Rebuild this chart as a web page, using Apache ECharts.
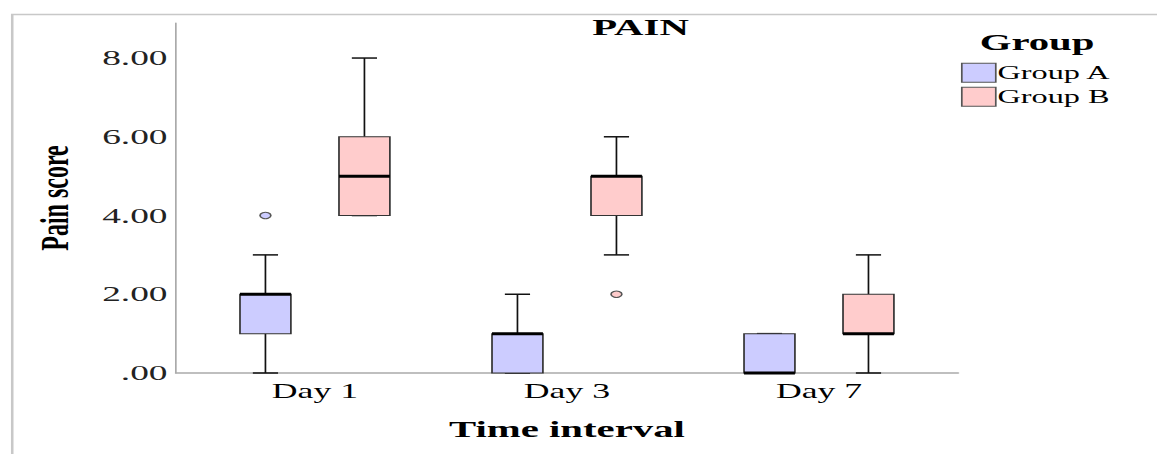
<!DOCTYPE html>
<html>
<head>
<meta charset="utf-8">
<title>PAIN</title>
<style>
  html, body { margin: 0; padding: 0; background: #fff; overflow: hidden; }
  /* the source figure is stretched sideways, so the chart is drawn narrow and scaled in x */
  #main { width: 681px; height: 454px; transform: scaleX(1.699); transform-origin: 0 0; }
</style>
</head>
<body>
<div id="main"></div>
<script src="https://cdn.jsdelivr.net/npm/echarts@6/dist/echarts.min.js"></script>
<script>
var days = ['Day 1', 'Day 3', 'Day 7'];
// [min, Q1, median, Q3, max] per day
var groupA = [[0, 1, 2, 2, 3], [0, 0, 1, 1, 2], [0, 0, 0, 1, 1]];
var groupB = [[4, 4, 5, 6, 8], [3, 4, 5, 5, 6], [0, 1, 1, 2, 3]];
// [day index, value]
var outliersA = [[0, 4]];
var outliersB = [[1, 2]];
var yTicks = [0, 2, 4, 6, 8];

var serif = '"Liberation Serif", "Times New Roman", serif';
var colorA = '#ccccff';
var colorB = '#ffcccc';

function withIndex(rows) {
  return rows.map(function (r, i) { return [i].concat(r); });
}

function boxRenderer(shift) {
  return function (params, api) {
    var i = api.value(0);
    var band = api.size([1, 0])[0];
    var cx = api.coord([i, 0])[0] + band * shift;
    var half = band * 0.101;
    var cap = band * 0.05;
    var yMin = api.coord([i, api.value(1)])[1];
    var yQ1 = api.coord([i, api.value(2)])[1];
    var yMed = api.coord([i, api.value(3)])[1];
    var yQ3 = api.coord([i, api.value(4)])[1];
    var yMax = api.coord([i, api.value(5)])[1];
    var line = { stroke: '#111', lineWidth: 1 };
    return {
      type: 'group',
      children: [
        { type: 'line', shape: { x1: cx, y1: yQ1, x2: cx, y2: yMin }, style: line },
        { type: 'line', shape: { x1: cx, y1: yQ3, x2: cx, y2: yMax }, style: line },
        { type: 'line', shape: { x1: cx - cap, y1: yMin, x2: cx + cap, y2: yMin }, style: { stroke: '#111', lineWidth: 1.5 } },
        { type: 'line', shape: { x1: cx - cap, y1: yMax, x2: cx + cap, y2: yMax }, style: { stroke: '#111', lineWidth: 1.5 } },
        { type: 'rect', shape: { x: cx - half, y: yQ3, width: half * 2, height: yQ1 - yQ3 },
          style: { fill: api.visual('color'), stroke: '#333', lineWidth: 1 } },
        { type: 'line', shape: { x1: cx - half, y1: yMed, x2: cx + half, y2: yMed }, style: { stroke: '#000', lineWidth: 3 } }
      ]
    };
  };
}

function outlierRenderer(shift) {
  return function (params, api) {
    var i = api.value(0);
    var band = api.size([1, 0])[0];
    var p = api.coord([i, api.value(1)]);
    return {
      type: 'circle',
      shape: { cx: p[0] + band * shift, cy: p[1], r: 3.2 },
      style: { fill: api.visual('color'), stroke: '#555', lineWidth: 1 }
    };
  };
}

var chart = echarts.init(document.getElementById('main'), null, { renderer: 'svg' });

var option = {
  backgroundColor: '#fff',
  animation: false,
  graphic: [{
    type: 'rect',
    left: 4.7, top: 12,
    shape: { width: 720, height: 480 },
    style: { fill: 'none', stroke: '#c8c8c8', lineWidth: 1.5 },
    silent: true
  }],
  title: [{
    text: 'PAIN',
    left: 377, top: 15, padding: 0,
    textAlign: 'center',
    textStyle: { fontFamily: serif, fontWeight: 'bold', fontSize: 24, color: '#000' }
  }, {
    text: 'Group',
    left: 610.4, top: 30, padding: 0,
    textAlign: 'center',
    textStyle: { fontFamily: serif, fontWeight: 'bold', fontSize: 24, color: '#000' }
  }],
  legend: {
    orient: 'vertical',
    left: 565.6, top: 62.7,
    padding: 0,
    itemWidth: 20, itemHeight: 19, itemGap: 4,
    selectedMode: false,
    textStyle: { fontFamily: serif, fontSize: 19, color: '#000', padding: [6, 0, -6, -4] },
    data: [
      { name: 'Group A', icon: 'rect', itemStyle: { color: colorA, borderColor: '#555', borderWidth: 1 } },
      { name: 'Group B', icon: 'rect', itemStyle: { color: colorB, borderColor: '#555', borderWidth: 1 } }
    ]
  },
  grid: [
    { left: 103.6, right: 117.1, top: 23, bottom: 81 },
    { left: 111.2, right: 124.8, top: 23, bottom: 81 }
  ],
  xAxis: [{
    gridIndex: 0, type: 'value', min: 0, max: 1,
    axisLine: { show: true, lineStyle: { color: '#aaa', width: 1.5 } },
    axisTick: { show: false }, axisLabel: { show: false }, splitLine: { show: false }
  }, {
    gridIndex: 1, type: 'category', data: days,
    axisLine: { show: false }, axisTick: { show: false }, splitLine: { show: false },
    axisLabel: { fontFamily: serif, fontSize: 21, color: '#000', margin: 7 },
    name: 'Time interval', nameLocation: 'middle', nameGap: 44,
    nameTextStyle: { fontFamily: serif, fontWeight: 'bold', fontSize: 24, color: '#000' }
  }],
  yAxis: [{
    gridIndex: 0, type: 'value', min: 0, max: 8.89, interval: 2,
    axisLine: { show: true, lineStyle: { color: '#aaa', width: 1 } },
    axisTick: { show: false }, splitLine: { show: false },
    axisLabel: {
      showMaxLabel: false,
      fontFamily: serif, fontSize: 22, color: '#222', margin: 5,
      formatter: function (v) {
        if (yTicks.indexOf(v) < 0) return '';
        return v === 0 ? '.00' : v.toFixed(2);
      }
    },
    name: 'Pain score', nameLocation: 'middle', nameRotate: 90, nameGap: 60,
    nameTextStyle: { fontFamily: serif, fontWeight: 'bold', fontSize: 24, color: '#000' }
  }, {
    gridIndex: 1, type: 'value', min: 0, max: 8.89, show: false
  }],
  series: [{
    name: 'Group A', type: 'custom', xAxisIndex: 1, yAxisIndex: 1,
    itemStyle: { color: colorA },
    encode: { x: 0, y: [1, 2, 3, 4, 5] },
    renderItem: boxRenderer(-0.1964),
    data: withIndex(groupA)
  }, {
    name: 'Group B', type: 'custom', xAxisIndex: 1, yAxisIndex: 1,
    itemStyle: { color: colorB },
    encode: { x: 0, y: [1, 2, 3, 4, 5] },
    renderItem: boxRenderer(0.1964),
    data: withIndex(groupB)
  }, {
    name: 'Group A', type: 'custom', xAxisIndex: 1, yAxisIndex: 1,
    itemStyle: { color: colorA },
    encode: { x: 0, y: 1 },
    renderItem: outlierRenderer(-0.1964),
    data: outliersA
  }, {
    name: 'Group B', type: 'custom', xAxisIndex: 1, yAxisIndex: 1,
    itemStyle: { color: colorB },
    encode: { x: 0, y: 1 },
    renderItem: outlierRenderer(0.1964),
    data: outliersB
  }]
};

chart.setOption(option);
</script>
</body>
</html>
